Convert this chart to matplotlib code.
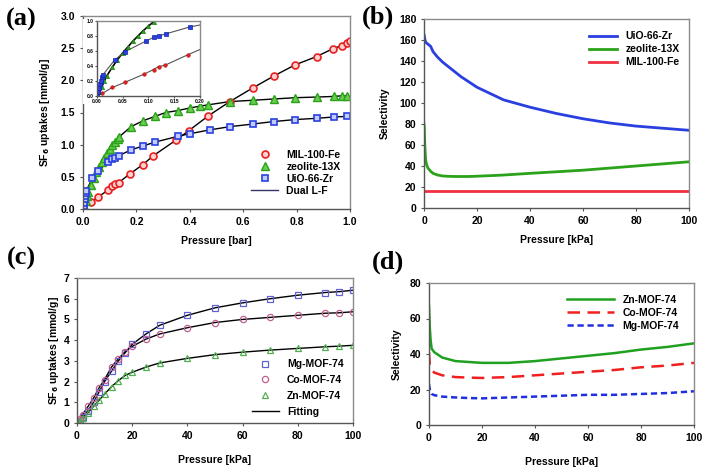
import numpy as np
import matplotlib
matplotlib.use("Agg")
import matplotlib.pyplot as plt

plt.rcParams['font.family'] = ['Liberation Sans', 'DejaVu Sans']
plt.rcParams['font.weight'] = 'bold'

# ---- (a) SF6 isotherms, pressure in bar
mil_p = [0.0, 0.011, 0.03, 0.055, 0.092, 0.11, 0.12, 0.133, 0.177, 0.224, 0.264, 0.348, 0.397,
         0.47, 0.55, 0.635, 0.716, 0.794, 0.875, 0.935, 0.969, 0.987, 1.0]
mil_q = [0.0, 0.03, 0.11, 0.18, 0.29, 0.35, 0.39, 0.41, 0.55, 0.69, 0.83, 1.07, 1.22,
         1.45, 1.67, 1.88, 2.07, 2.24, 2.37, 2.49, 2.54, 2.58, 2.61]
zeo_p = [0.0, 0.005, 0.01, 0.015, 0.02, 0.03, 0.04, 0.05, 0.06, 0.07, 0.08, 0.09, 0.10, 0.11,
         0.12, 0.13, 0.135, 0.18, 0.224, 0.27, 0.31, 0.355, 0.40, 0.44, 0.47, 0.55, 0.635,
         0.716, 0.794, 0.875, 0.94, 0.97, 0.99]
zeo_q = [0.0, 0.05, 0.12, 0.2, 0.27, 0.38, 0.48, 0.57, 0.65, 0.73, 0.80, 0.87, 0.93, 0.99,
         1.04, 1.09, 1.12, 1.28, 1.37, 1.44, 1.50, 1.53, 1.57, 1.60, 1.62, 1.67, 1.69,
         1.71, 1.73, 1.74, 1.75, 1.76, 1.76]
uio_p = [0.0, 0.002, 0.004, 0.006, 0.008, 0.01, 0.012, 0.035, 0.055, 0.095, 0.11, 0.12, 0.135,
         0.18, 0.225, 0.27, 0.355, 0.40, 0.475, 0.55, 0.635, 0.715, 0.795, 0.875, 0.94, 0.99]
uio_q = [0.0, 0.05, 0.1, 0.15, 0.2, 0.25, 0.28, 0.48, 0.59, 0.73, 0.78, 0.80, 0.83,
         0.92, 0.98, 1.04, 1.13, 1.17, 1.23, 1.28, 1.32, 1.36, 1.39, 1.41, 1.43, 1.44]

# ---- (b) selectivity, kPa
b_p = [0.0, 0.1, 0.3, 0.6, 1, 1.5, 2.5, 3.4, 5, 7, 9, 12, 14, 17, 20, 25, 30, 40, 50, 60,
       70, 80, 90, 100]
uio_sel = [165, 164, 161, 158, 157, 156, 154, 149, 144, 139, 135, 129, 125, 120, 115, 109, 103,
           96, 90, 85, 81, 78, 76, 74]
zeo_sel = [80, 78, 60, 46, 41, 38, 35, 33, 31.5, 30.5, 30.2, 30, 30, 30, 30.3, 30.8, 31.4,
           33, 34.5, 36, 38, 40, 42, 44]
mil_sel = [16] * len(b_p)

# ---- (c) MOF-74 isotherms, kPa
mg_p = [0.5, 1, 2, 4, 6, 8, 10, 12.5, 15, 17.5, 20, 25, 30, 40, 50, 60, 70, 80, 90, 95, 100]
mg_q = [0.05, 0.1, 0.3, 0.6, 1.0, 1.5, 2.0, 2.5, 3.0, 3.4, 3.8, 4.3, 4.72, 5.2, 5.56, 5.8, 6.0,
        6.17, 6.3, 6.34, 6.41]
co_p = [0.5, 1, 2, 4, 6, 8, 10, 12.5, 15, 17.5, 20, 25, 30, 40, 50, 60, 70, 80, 90, 95, 100]
co_q = [0.1, 0.2, 0.4, 0.8, 1.2, 1.7, 2.1, 2.7, 3.1, 3.45, 3.7, 4.05, 4.3, 4.6, 4.85, 5.0, 5.1,
        5.2, 5.3, 5.32, 5.37]
zn_p = [0.5, 1, 2, 4, 6, 8, 10, 12.5, 15, 17.5, 20, 25, 30, 40, 50, 60, 70, 80, 90, 95, 100]
zn_q = [0.02, 0.1, 0.25, 0.5, 0.8, 1.1, 1.4, 1.75, 2.05, 2.3, 2.45, 2.7, 2.9, 3.12, 3.3, 3.42,
        3.52, 3.6, 3.68, 3.71, 3.75]

# ---- (d) selectivity, kPa
d_p = [0.0, 0.3, 0.6, 1, 2, 5, 10, 15, 20, 30, 40, 50, 60, 70, 80, 90, 100]
zn_sel = [67, 55, 48, 43, 41, 38, 36, 35.5, 35, 35, 36, 37.5, 39, 40.5, 42.5, 44, 46]
co_sel = [41, 34, 32, 31, 29.5, 28, 27, 26.7, 26.5, 27, 28, 29, 30, 31, 32.5, 33.5, 35]
mg_sel = [23, 20, 18.5, 17.5, 16.8, 16, 15.5, 15.2, 15, 15.5, 16, 16.5, 17, 17, 17.5, 18, 19]

W, H = 705, 470
fig = plt.figure(figsize=(W / 100, H / 100), dpi=100)


def px_axes(x0, x1, y0, y1):
    return fig.add_axes([x0 / W, 1 - y1 / H, (x1 - x0) / W, (y1 - y0) / H])


def style(ax, fs=7.5):
    for s in ax.spines.values():
        s.set_color('#8a8a8a')
        s.set_linewidth(1.0)
    ax.spines['left'].set_color('#555555')
    ax.spines['bottom'].set_color('#555555')
    ax.tick_params(labelsize=fs, length=2.5, width=0.8, color='#555555', pad=3)
    for t in ax.get_xticklabels() + ax.get_yticklabels():
        t.set_fontweight('bold')


def labels(ax, xl, yl, xy, yx):
    ax.set_xlabel(xl, fontsize=7.5, fontweight='bold')
    ax.set_ylabel(yl, fontsize=7.5, fontweight='bold')
    ax.xaxis.set_label_coords(0.5, xy)
    ax.yaxis.set_label_coords(yx, 0.5)
    ax.xaxis.label.set_va('center')
    ax.yaxis.label.set_va('center')


red, green, blue = '#e82020', '#2aa21a', '#2a3fe0'

# (a)
axa = px_axes(83, 350, 16, 209)
axa.plot(mil_p, mil_q, color='black', lw=1)
axa.plot(zeo_p, zeo_q, color='black', lw=1)
axa.plot(uio_p, uio_q, color='black', lw=1)
axa.plot(mil_p[2:], mil_q[2:], 'o', ms=5, mfc='#ffd0d0', mec=red, mew=1.2, label='MIL-100-Fe')
axa.plot(zeo_p, zeo_q, '^', ms=5.5, mfc='#6acc50', mec=green, mew=1, label='zeolite-13X')
axa.plot(uio_p, uio_q, 's', ms=5, mfc='#c0ccff', mec=blue, mew=1.2, label='UiO-66-Zr')
axa.plot([], [], color='#333366', lw=1, label='Dual L-F')
axa.set_xlim(0, 1.0)
axa.set_ylim(0, 3.0)
axa.set_xticks(np.arange(0, 1.01, 0.2))
axa.set_yticks(np.arange(0, 3.01, 0.5))
axa.xaxis.set_major_formatter(matplotlib.ticker.FormatStrFormatter('%.1f'))
axa.yaxis.set_major_formatter(matplotlib.ticker.FormatStrFormatter('%.1f'))
style(axa)
labels(axa, 'Pressure [bar]', 'SF$_\\mathbf{6}$ uptakes [mmol/g]', -0.166, -0.142)
axa.legend(loc='lower right', bbox_to_anchor=(1.0, 0.02), frameon=False,
           handlelength=2.6, labelspacing=0.2, prop={'weight': 'bold', 'size': 7.5})

# inset of (a)
bg = fig.add_axes([83 / W, 1 - 104 / H, (202 - 83) / W, (104 - 19) / H])
bg.set_xticks([])
bg.set_yticks([])
bg.set_facecolor('white')
for s in bg.spines.values():
    s.set_visible(False)
axi = px_axes(96.7, 200, 21, 95.7)
axi.plot(mil_p, mil_q, color='#555555', lw=0.8)
axi.plot(zeo_p, zeo_q, color='black', lw=1.2)
axi.plot(uio_p, uio_q, color='#555555', lw=0.8)
axi.plot(mil_p, mil_q, 'o', ms=2.5, mfc=red, mec='#c01010', mew=0.5)
axi.plot(zeo_p, zeo_q, '^', ms=3, mfc=green, mec='#208010', mew=0.5)
axi.plot(uio_p, uio_q, 's', ms=2.5, mfc=blue, mec='#1020b0', mew=0.5)
axi.set_xlim(0, 0.2)
axi.set_ylim(0, 1.0)
axi.set_xticks([0, 0.05, 0.10, 0.15, 0.20])
axi.set_yticks(np.arange(0, 1.01, 0.2))
axi.xaxis.set_major_formatter(matplotlib.ticker.FormatStrFormatter('%.2f'))
axi.yaxis.set_major_formatter(matplotlib.ticker.FormatStrFormatter('%.1f'))
style(axi, fs=3.5)
axi.tick_params(length=1.2, pad=1)

# (b)
axb = px_axes(424, 689, 19, 208)
axb.plot(b_p, uio_sel, color=blue, lw=2, label='UiO-66-Zr')
axb.plot(b_p, zeo_sel, color=green, lw=2, label='zeolite-13X')
axb.plot(b_p, mil_sel, color='#f03040', lw=2, label='MIL-100-Fe')
axb.set_xlim(0, 100)
axb.set_ylim(0, 180)
axb.set_xticks(np.arange(0, 101, 20))
axb.set_yticks(np.arange(0, 181, 20))
style(axb)
labels(axb, 'Pressure [kPa]', 'Selectivity', -0.169, -0.147)
axb.legend(loc='upper right', bbox_to_anchor=(1.0, 0.985), frameon=False, handlelength=2.7,
           labelspacing=0.3, prop={'weight': 'bold', 'size': 7.5})

# (c)
axc = px_axes(77, 353, 278, 423)
axc.plot(mg_p, mg_q, color='black', lw=1)
axc.plot(co_p, co_q, color='black', lw=1)
axc.plot(zn_p, zn_q, color='black', lw=1)
axc.plot(mg_p, mg_q, 's', ms=4.5, mfc='none', mec='#6060d0', mew=0.9, label='Mg-MOF-74')
axc.plot(co_p, co_q, 'o', ms=4.5, mfc='none', mec='#c06090', mew=0.9, label='Co-MOF-74')
axc.plot(zn_p, zn_q, '^', ms=4.5, mfc='none', mec='#50b050', mew=0.9, label='Zn-MOF-74')
axc.plot([], [], color='black', lw=1, label='Fitting')
axc.set_xlim(0, 100)
axc.set_ylim(0, 7)
axc.set_xticks(np.arange(0, 101, 20))
axc.set_yticks(np.arange(0, 8, 1))
style(axc)
labels(axc, 'Pressure [kPa]', 'SF$_\\mathbf{6}$ uptakes [mmol/g]', -0.255, -0.085)
axc.legend(loc='lower right', bbox_to_anchor=(1.0, -0.02), frameon=False, handlelength=2.6,
           labelspacing=0.55, prop={'weight': 'bold', 'size': 7.5})

# (d)
axd = px_axes(429, 694, 283, 425)
axd.plot(d_p, zn_sel, color='#20a020', lw=1.8, label='Zn-MOF-74')
axd.plot(d_p, co_sel, color='#f02020', lw=1.8, dashes=(5, 3), label='Co-MOF-74')
axd.plot(d_p, mg_sel, color='#2030e0', lw=1.8, dashes=(2.5, 1.5), label='Mg-MOF-74')
axd.set_xlim(0, 100)
axd.set_ylim(0, 80)
axd.set_xticks(np.arange(0, 101, 20))
axd.set_yticks(np.arange(0, 81, 20))
style(axd)
labels(axd, 'Pressure [kPa]', 'Selectivity', -0.26, -0.121)
axd.legend(loc='upper right', bbox_to_anchor=(0.98, 0.985), frameon=False, handlelength=4.5,
           labelspacing=0.3, prop={'weight': 'bold', 'size': 7.5})

for txt, x, y in [('(a)', 21, 19), ('(b)', 378, 17), ('(c)', 21, 258), ('(d)', 388, 262)]:
    fig.text(x / W, 1 - y / H, txt, fontsize=19, fontweight='bold',
             family=['Liberation Serif', 'DejaVu Serif'], ha='center', va='center')

fig.savefig('out.png', dpi=100)
